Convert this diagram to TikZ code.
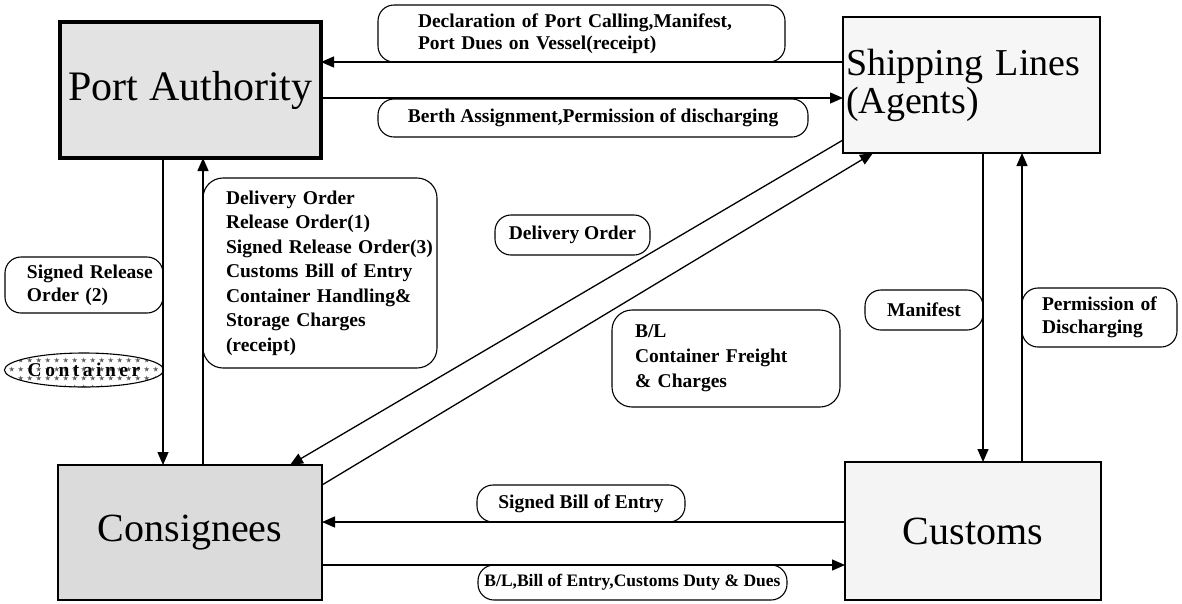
\documentclass[tikz,border=0pt]{standalone}
\usepackage{fontspec}
\setmainfont{Liberation Serif}
\usetikzlibrary{arrows.meta,patterns,shapes.geometric}
\begin{document}
\begin{tikzpicture}[x=1pt,y=-1pt,
  mainbox/.style={draw,line width=2.6pt,inner sep=0pt,outer sep=0pt,font=\fontsize{40}{38}\selectfont},
  lbl/.style={draw,line width=1.1pt,rounded corners=16pt,inner sep=0pt,outer sep=0pt,font=\bfseries\fontsize{19.5}{22}\selectfont},
  arr/.style={line width=1.3pt,-{Triangle[length=13pt,width=11pt]}},
  ln/.style={line width=1.3pt}]
\useasboundingbox (0,0) rectangle (1182,603);
% main boxes
\node[mainbox,line width=4.5pt,fill=gray!22,minimum width=261pt,minimum height=136pt,font=\fontsize{42}{40}\selectfont] (pa) at (190.5,90) {Port Authority};
\node[mainbox,fill=gray!7,minimum width=257pt,minimum height=136pt,text width=251pt,align=left,font=\fontsize{38}{38}\selectfont] (ship) at (971.5,85) {\mbox{Shipping Lines}\\(Agents)};
\node[mainbox,fill=gray!28,minimum width=264pt,minimum height=135pt] (cons) at (190,532.5) {Consignees};
\node[mainbox,fill=gray!9,minimum width=256pt,minimum height=138pt] (cust) at (973,531) {Customs};
% labels
\node[lbl,minimum width=407pt,minimum height=57pt,text width=327pt,align=left] (decl) at (581.5,33.5) {\mbox{Declaration of Port Calling,Manifest,}\\\mbox{Port Dues on Vessel(receipt)}};
\node[lbl,minimum width=430pt,minimum height=38pt] (berth) at (593,118) {Berth Assignment,Permission of discharging};
\node[lbl,minimum width=158pt,minimum height=56pt,text width=114pt,align=left,font=\bfseries\fontsize{19.5}{23}\selectfont] (sro) at (84,285) {\mbox{Signed Release}\\\mbox{Order (2)}};
\node[draw,ellipse,line width=1.1pt,pattern=fivepointed stars,pattern color=gray!75!black,minimum width=158pt,minimum height=34pt,inner sep=0pt,font=\bfseries\fontsize{19.5}{20}\selectfont\addfontfeature{LetterSpace=18}] (cont) at (84,370) {Container};
\node[lbl,rounded corners=20pt,minimum width=234pt,minimum height=190pt,text width=188pt,align=left,font=\bfseries\fontsize{19.5}{24.5}\selectfont] (dob) at (320,273) {\mbox{Delivery Order}\\\mbox{Release Order(1)}\\\mbox{Signed Release Order(3)}\\\mbox{Customs Bill of Entry}\\\mbox{Container Handling\&}\\\mbox{Storage Charges}\\(receipt)};
\node[lbl,minimum width=155pt,minimum height=40pt] (dos) at (572.5,235) {Delivery Order};
\node[lbl,rounded corners=20pt,minimum width=228pt,minimum height=97pt,text width=182pt,align=left,font=\bfseries\fontsize{19.5}{25}\selectfont] (bl) at (726,358.5) {B/L\\\mbox{Container Freight}\\\mbox{\& Charges}};
\node[lbl,minimum width=118pt,minimum height=40pt] (man) at (924,310) {Manifest};
\node[lbl,minimum width=155pt,minimum height=59pt,text width=115pt,align=left,font=\bfseries\fontsize{19.5}{23}\selectfont] (perm) at (1099.5,317.5) {\mbox{Permission of}\\Discharging};
\node[lbl,minimum width=208pt,minimum height=37pt] (sbe) at (581,503.5) {Signed Bill of Entry};
\node[lbl,minimum width=309pt,minimum height=35pt,font=\bfseries\fontsize{17.5}{20}\selectfont] (bld) at (632.5,582.5) {B/L,Bill of Entry,Customs Duty \& Dues};
% helper coordinates
\coordinate (r62) at (0,62);
\coordinate (r98) at (0,98);
\coordinate (c163) at (163,0);
\coordinate (c203) at (203,0);
\coordinate (c983) at (983,0);
\coordinate (c1022) at (1022,0);
\coordinate (r522) at (0,522);
\coordinate (r565) at (0,565);
\coordinate (r140) at (0,140);
\coordinate (c290) at (290,0);
\coordinate (r485) at (0,485);
\coordinate (c873) at (873,0);
% connectors
\draw[arr] (ship.west |- r62) -- (pa.east |- r62);
\draw[arr] (pa.east |- r98) -- (ship.west |- r98);
\draw[arr] (pa.south -| c163) -- (cons.north -| c163);
\draw[arr] (cons.north -| c203) -- (pa.south -| c203);
\draw[arr] (ship.south -| c983) -- (cust.north -| c983);
\draw[arr] (cust.north -| c1022) -- (ship.south -| c1022);
\draw[arr] (cust.west |- r522) -- (cons.east |- r522);
\draw[arr] (cons.east |- r565) -- (cust.west |- r565);
\draw[arr] (ship.west |- r140) -- (cons.north -| c290);
\draw[arr] (cons.east |- r485) -- (ship.south -| c873);
\end{tikzpicture}
\end{document}
